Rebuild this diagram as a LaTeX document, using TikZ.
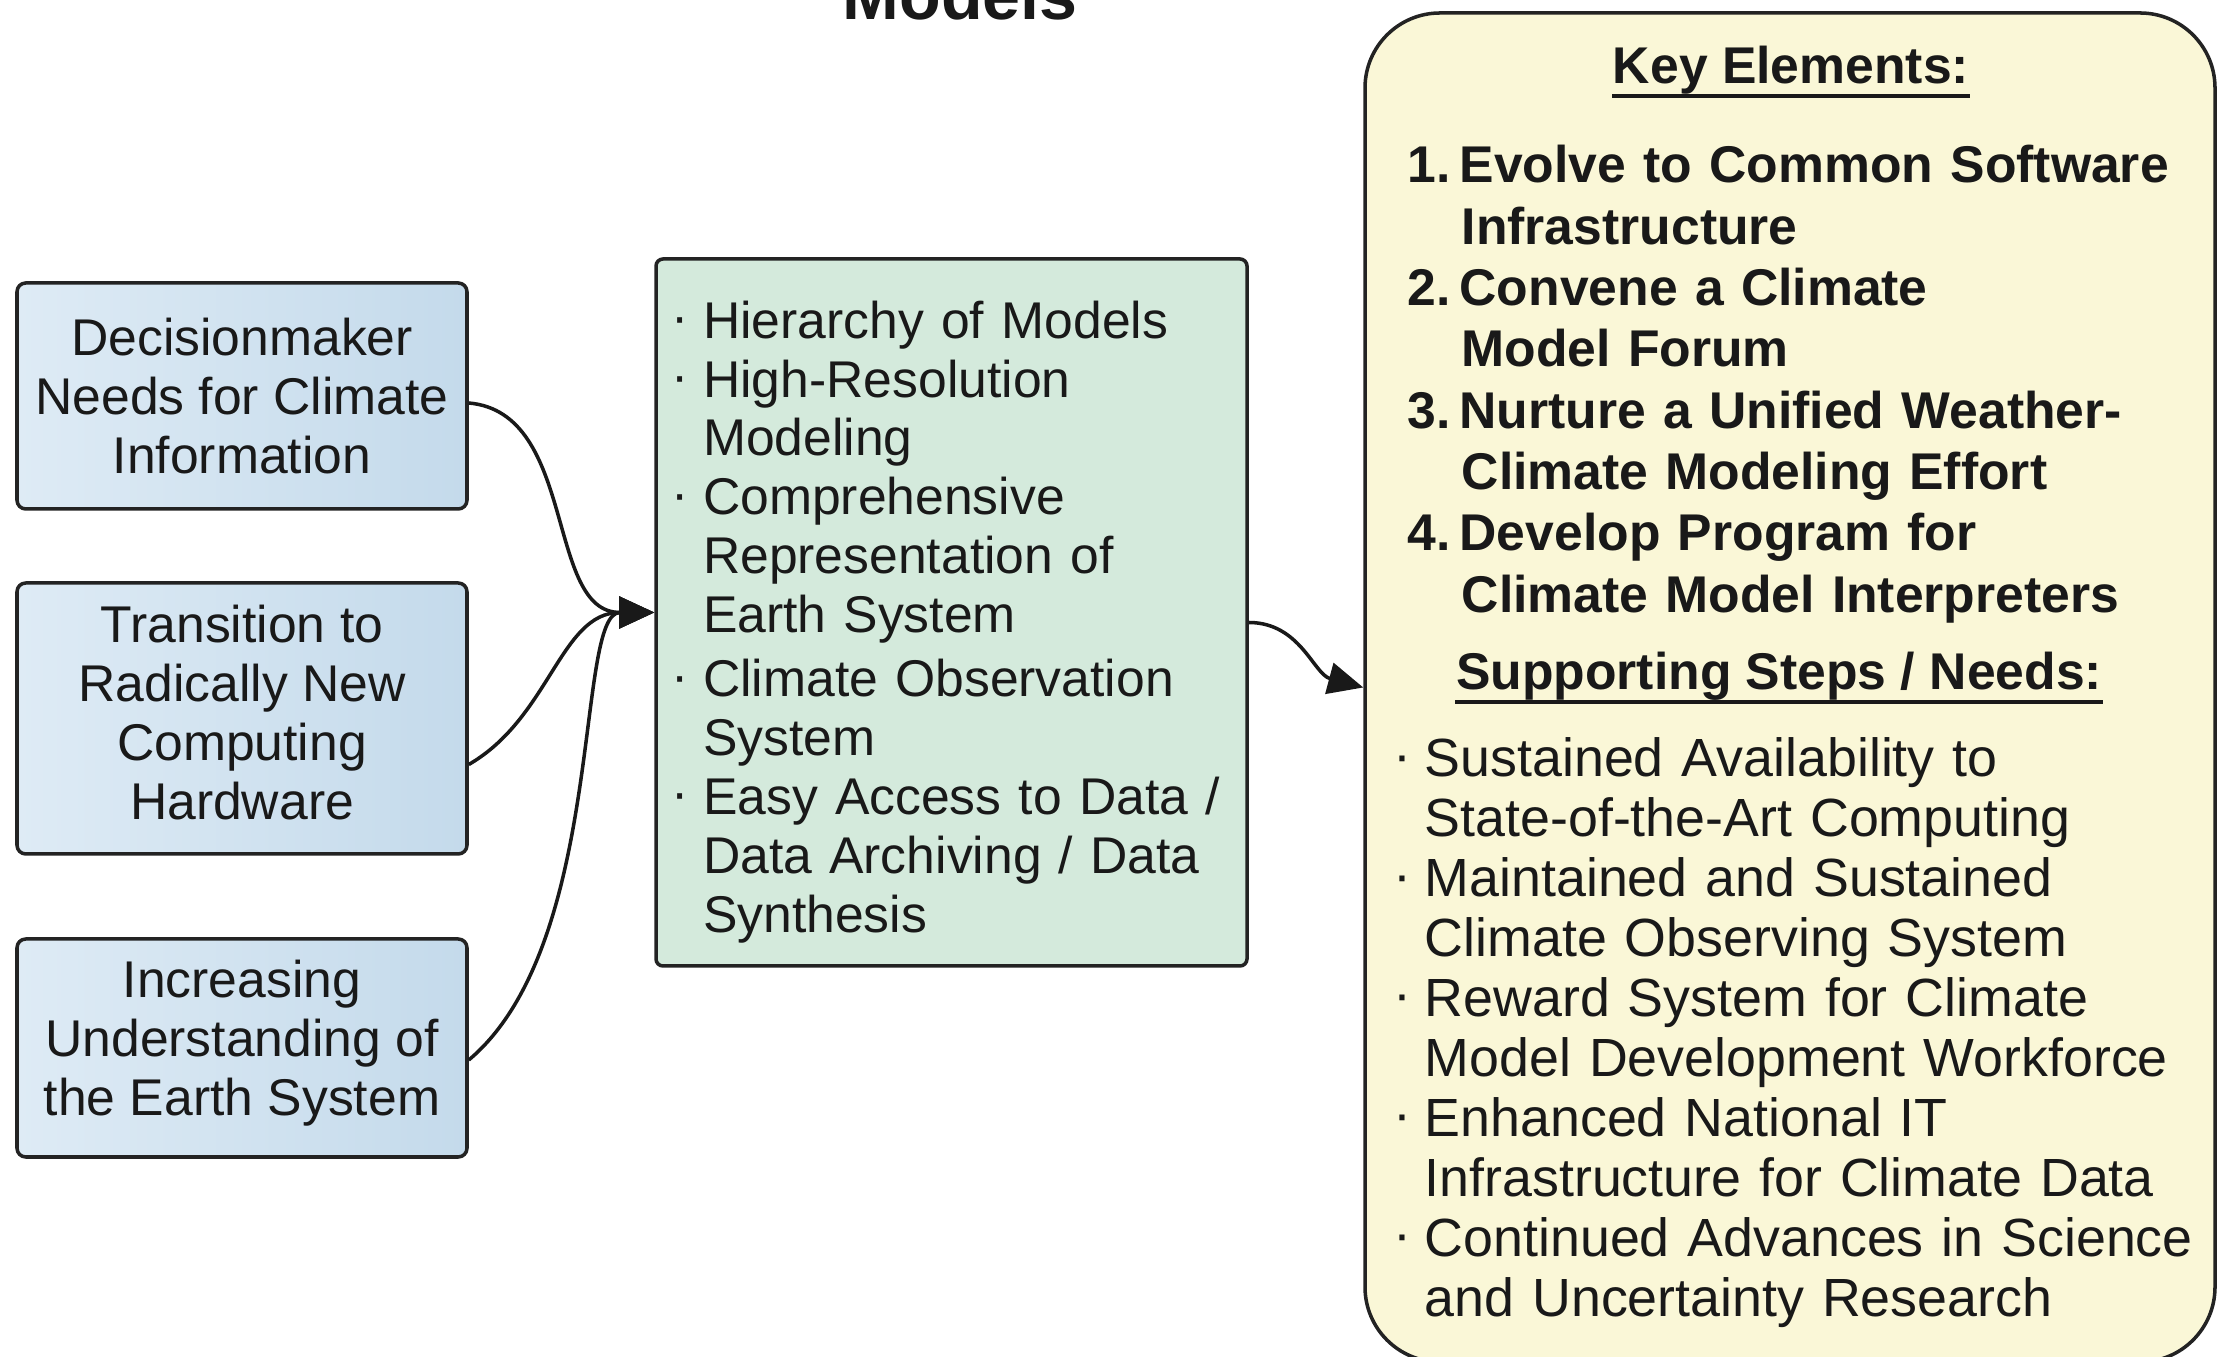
\documentclass[tikz,border=0pt]{standalone}
\usepackage{fontspec}
\setmainfont{Liberation Sans}
\usetikzlibrary{arrows.meta,positioning}
\usepackage{xcolor}
\definecolor{srcblue}{RGB}{222,235,245}
\definecolor{srcblueR}{RGB}{196,218,235}
\definecolor{compgreen}{RGB}{212,234,220}
\definecolor{keyyellow}{RGB}{250,247,215}
\definecolor{boxline}{RGB}{35,35,35}

% bullet and hanging indent for the item lists
\newcommand{\dotbul}{\makebox[0.24cm][l]{\hspace{-2pt}\raisebox{0.07em}{\textperiodcentered}}}
\newcommand{\hangind}{\hspace*{0.24cm}}
\newcommand{\keynum}[1]{\makebox[0.52cm][l]{#1}}
\newcommand{\keyind}{\hspace*{0.54cm}}

\begin{document}
\begin{tikzpicture}[font=\fontsize{14.7}{16.8}\selectfont, text=black!90]
\useasboundingbox (0,0) rectangle (22.17,13.57);
\tikzset{
  srcbox/.style={draw=boxline, line width=1pt, rounded corners=2.5pt,
    left color=srcblue, right color=srcblueR, minimum width=4.50cm,
    inner sep=0pt, align=center},
  conn/.style={draw=black!90, line width=1pt, -{Triangle[length=10pt,width=9pt]}},
  heading/.style={font=\bfseries\fontsize{14.7}{17}\selectfont, anchor=base, inner sep=0pt},
  uline/.style={line width=1.2pt, black!90},
}
\node[font=\bfseries\fontsize{19.4}{22}\selectfont, anchor=base, inner sep=0pt] (title) at (9.60,13.37) {Models};

% the three drivers on the left (struts on the last line lift the text a bit)
\foreach \n/\y/\h/\t in {
  dmneeds/9.61/2.26/{Decisionmaker\\Needs for Climate\\Information},
  newhw/6.385/2.71/{Transition to\\Radically New\\Computing\\Hardware\rule[-0.12cm]{0pt}{0pt}},
  earthsys/3.09/2.18/{Increasing\\Understanding of\\the Earth System\rule[-0.2cm]{0pt}{0pt}}}
  \node[srcbox, minimum height=\h cm] (\n) at (2.42,\y) {\t};

% model components (the strut on the first line pushes the list down a little)
\node[draw=boxline, line width=1pt, rounded corners=2pt, fill=compgreen,
      minimum width=5.91cm, minimum height=7.07cm, text width=5.45cm,
      inner xsep=0.23cm, inner ysep=0pt, align=left,
      font=\fontsize{14.7}{16.75}\selectfont] (comps) at (9.515,7.445) {
  \rule{0pt}{0.56cm}\dotbul Hierarchy of Models\\
  \dotbul High-Resolution\\
  \hangind Modeling\\
  \dotbul Comprehensive\\
  \hangind Representation of\\
  \hangind Earth System\\[1.5pt]
  \dotbul Climate Observation\\
  \hangind System\\
  \dotbul Easy Access to Data /\\
  \hangind Data Archiving / Data\\
  \hangind Synthesis};

% key elements panel
\node[draw=boxline, line width=1pt, rounded corners=0.75cm, fill=keyyellow,
      minimum width=8.50cm, minimum height=13.49cm, inner sep=0pt] (keybox) at (17.90,6.695) {};
\node[heading] (keyhd) at (17.91,12.73) {Key Elements:};
\draw[uline] ([yshift=-3.5pt]keyhd.base west) -- ([yshift=-3.5pt]keyhd.base east);
\node[anchor=base west, text width=7.9cm, align=left, inner sep=0pt,
      font=\bfseries\fontsize{14.7}{17.45}\selectfont] (keylist) at (14.07,11.74) {
  \keynum{1.}Evolve to Common Software\\
  \keyind Infrastructure\\
  \keynum{2.}Convene a Climate\\
  \keyind Model Forum\\
  \keynum{3.}Nurture a Unified Weather-\\
  \keyind Climate Modeling Effort\\
  \keynum{4.}Develop Program for\\
  \keyind Climate Model Interpreters};
\node[heading] (stephd) at (17.79,6.67) {Supporting Steps / Needs:};
\draw[uline] ([yshift=-3.5pt]stephd.base west) -- ([yshift=-3.5pt]stephd.base east);
\node[anchor=base west, text width=8.1cm, align=left, inner sep=0pt,
      font=\fontsize{15.3}{17.05}\selectfont] (steps) at (14.00,5.80) {
  \dotbul Sustained Availability to\\
  \hangind State-of-the-Art Computing\\
  \dotbul Maintained and Sustained\\
  \hangind Climate Observing System\\
  \dotbul Reward System for Climate\\
  \hangind Model Development Workforce\\
  \dotbul Enhanced National IT\\
  \hangind Infrastructure for Climate Data\\
  \dotbul Continued Advances in Science\\
  \hangind and Uncertainty Research};

% connectors
\foreach \n/\s/\o in {dmneeds/0.07/-5, newhw/0.46/30}
  \draw[conn] ([yshift=-\s cm]\n.east) to[out=\o, in=180] (comps.west);
\draw[conn] ([yshift=-0.12cm]earthsys.east) .. controls +(40:1.8) and +(-0.8,0) .. (comps.west);
\draw[conn] ([yshift=-0.1cm]comps.east) to[out=0, in=165] (keybox.west);
\end{tikzpicture}
\end{document}
